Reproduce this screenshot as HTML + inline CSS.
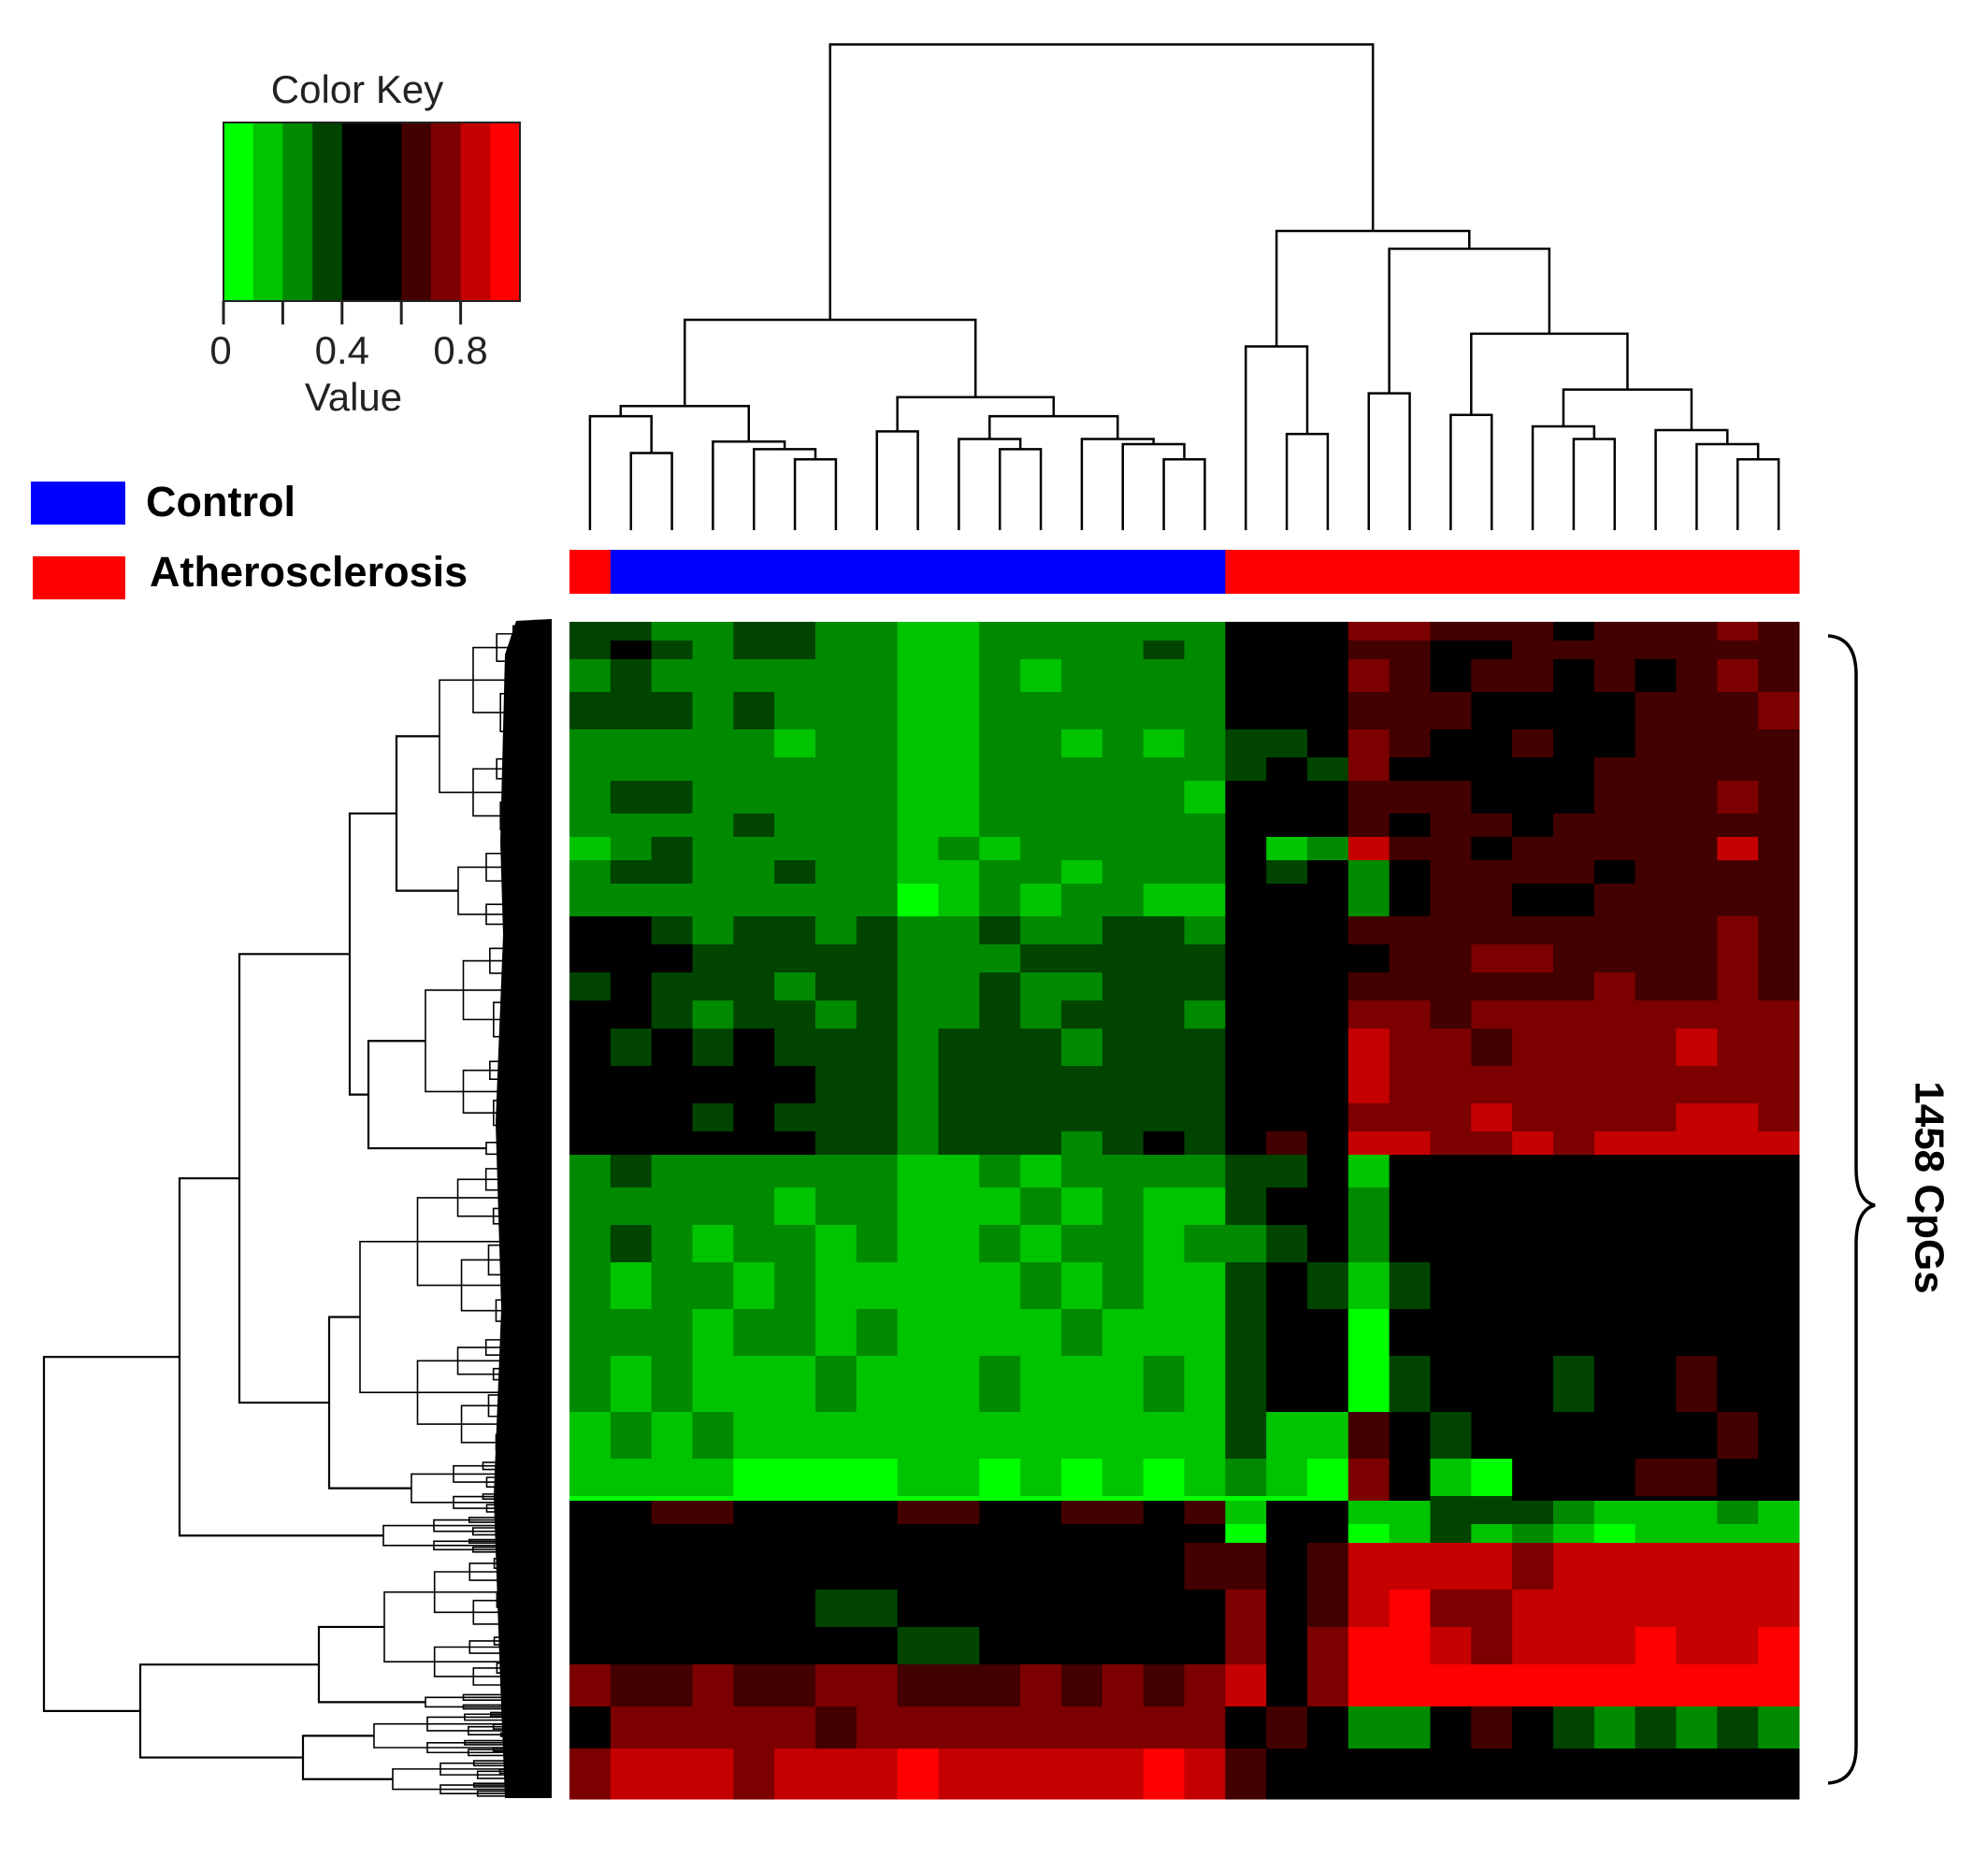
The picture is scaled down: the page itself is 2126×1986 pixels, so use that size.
<!DOCTYPE html>
<html><head><meta charset="utf-8"><style>
html,body{margin:0;padding:0;background:#fff;}
svg{display:block;font-family:"Liberation Sans",Arial,sans-serif;}
</style></head><body>
<svg id="chart" width="2126" height="1986" viewBox="0 0 2126 1986" xmlns="http://www.w3.org/2000/svg">
<rect width="2126" height="1986" fill="#fff"/>
<g id="key">
<text x="382" y="110" font-size="42" text-anchor="middle" fill="#222">Color Key</text>
<text x="378" y="439" font-size="42" text-anchor="middle" fill="#222">Value</text>
</g>
<g>
<rect x="33" y="515" width="101" height="46" fill="#0000ff"/>
<text x="156" y="552" font-size="45" font-weight="bold" fill="#000">Control</text>
<rect x="35" y="595" width="99" height="46" fill="#ff0000"/>
<text x="160" y="627" font-size="45" font-weight="bold" fill="#000">Atherosclerosis</text>
</g>
<g id="heat"></g>
<g id="colbar"></g>
<g id="topdendro" stroke="#000" stroke-width="2.5" fill="none"></g>
<g id="rowdendro" stroke="#000" stroke-width="2.2" fill="none"></g>
<path d="M1955,680 Q1985,682 1985,722 L1985,1250 Q1985,1284 2005,1289 Q1985,1294 1985,1330 L1985,1868 Q1985,1905 1955,1907" stroke="#000" stroke-width="3.5" fill="none"/>
<text x="2060" y="1270" font-size="44" font-weight="bold" text-anchor="middle" transform="rotate(90 2060 1270)" dominant-baseline="middle">1458 CpGs</text>
</svg>
<script>
// ---- data ----
var keyColors = ["#00ff00","#00c400","#008a00","#004400","#000000","#000000","#420000","#7c0000","#c40000","#ff0000"];
var keyTicks = [0,0.2,0.4,0.6,0.8];
var keyTickLabels = ["0","","0.4","","0.8"];
var sampleGroups = ["A","C","C","C","C","C","C","C","C","C","C","C","C","C","C","C","A","A","A","A","A","A","A","A","A","A","A","A","A","A"];
var rowBandEnds = [685,705,740,780,810,835,870,895,920,945,980,1010,1040,1070,1100,1140,1180,1210,1235,1270,1310,1350,1400,1450,1510,1560,1600,1605,1630,1650,1700,1740,1780,1825,1870,1924];
var rowBandValues = [
"3322332211222222"+"545"+"77"+"666566676",
"3432332211222232"+"555"+"66"+"556666666",
"2322222211212222"+"545"+"76"+"566565676",
"3332322211222222"+"555"+"66"+"655556667",
"2222212211221212"+"334"+"76"+"556556666",
"2222222211222222"+"343"+"75"+"555566666",
"2332222211222221"+"455"+"66"+"655566676",
"2222322211222222"+"545"+"65"+"665666666",
"1232222212122222"+"512"+"86"+"656666686",
"2332232211221222"+"434"+"25"+"666656666",
"2222222201212211"+"445"+"25"+"665566666",
"4432332322322332"+"555"+"66"+"666666676",
"4443333322233333"+"555"+"56"+"677666676",
"3433323322322333"+"555"+"66"+"666676676",
"4432332322323332"+"555"+"77"+"677777777",
"4343433323332333"+"455"+"87"+"767777877",
"4444443323333333"+"555"+"87"+"777777777",
"4443433323333333"+"555"+"77"+"787777887",
"4444443323332343"+"565"+"88"+"778788888",
"2322222211212222"+"334"+"15"+"555555555",
"2222212211121211"+"344"+"25"+"555545555",
"2321221211212212"+"234"+"24"+"555555555",
"2122121111121211"+"343"+"13"+"455454555",
"2221221211112111"+"344"+"04"+"554455555",
"2121112111211121"+"344"+"03"+"555355655",
"1212111111111111"+"311"+"65"+"345555565",
"1111000011010101"+"210"+"75"+"104446655",
"0000000000000000"+"000"+"75"+"334444444",
"5566554466556656"+"155"+"11"+"333211121",
"4455454455445555"+"045"+"01"+"312101111",
"5555554444555556"+"646"+"88"+"887888888",
"4545553344454545"+"746"+"89"+"778888888",
"5455554433554445"+"747"+"99"+"878889889",
"7667667766676767"+"857"+"99"+"999999999",
"5777776777777777"+"465"+"22"+"464323232",
"7888788898888898"+"655"+"45"+"545555545"
];
// column dendrogram: [mergeHeight, left, right]; leaves are column indices
var colTree = [35,
  [252,
    [320,[328,0,[357,1,2]],[348,3,[354,4,[362,5,6]]]],
    [313,[340,7,8],[328,[346,9,[354,10,11]],[346,12,[350,13,[362,14,15]]]]]],
  [182,
    [273,16,[342,17,18]],
    [196,[310,19,20],[263,[327,21,22],[307,[336,23,[346,24,25]],[339,26,[350,27,[362,28,29]]]]]]]];
// row dendrogram: node = [x, upper, lower]; terminal = [y0, y1, x]
var rowTree = [47,
  [192,
    [256,
      [374,[424,[662,900,470],[900,1000,490]],[394,[1000,1215,455],[1215,1240,520]]],
      [352,[1240,1560,385],[1560,1620,440]]],
    [1620,1662,410]],
  [150,
    [341,[1662,1810,411],[1810,1830,455]],
    [324,[1830,1880,400],[1880,1923,420]]]];

// ---- geometry ----
var NS="http://www.w3.org/2000/svg";
var HX0=609,HX1=1924,HY0=665,HY1=1924,NCOL=30;
function colX(i){return HX0+(HX1-HX0)*i/NCOL;}
function colCenter(i){return colX(i+0.5);}
var KX0=239,KX1=556,KY0=131,KY1=322;
function keyX(v){return KX0+(KX1-KX0)*v;}
function dendY(h){return h*1.357;}
var LEAFY=567;
function mk(tag,attrs,parent){var e=document.createElementNS(NS,tag);for(var k in attrs)e.setAttribute(k,attrs[k]);parent.appendChild(e);return e;}

// color key
var key=document.getElementById('key');
keyColors.forEach(function(c,i){
  var r=mk('rect',{x:keyX(i/10),y:KY0,width:(KX1-KX0)/10+0.6,height:KY1-KY0,fill:c},key);
  
  
});
var kb=mk('rect',{x:KX0,y:KY0,width:KX1-KX0,height:KY1-KY0,fill:'none',stroke:'#222','stroke-width':2},key);


keyTicks.forEach(function(v,i){
  var t=mk('line',{x1:keyX(v),x2:keyX(v),y1:KY1,y2:347,stroke:'#222','stroke-width':3},key);
  
  
  if(keyTickLabels[i]){
    var l=mk('text',{x:keyX(v)-(i===0?3:0),y:389,'font-size':42,'text-anchor':'middle',fill:'#222'},key);
    l.textContent=keyTickLabels[i];
    
    
  }
});

// heatmap
var heat=document.getElementById('heat');
var prev=HY0;
rowBandEnds.forEach(function(yEnd,r){
  var s=rowBandValues[r];
  for(var c=0;c<NCOL;c++){
    var cell=mk('rect',{x:colX(c),y:prev,width:colX(c+1)-colX(c)+0.5,height:yEnd-prev+0.5,fill:keyColors[+s[c]]},heat);
    
    
  }
  prev=yEnd;
});

// sample group bar
var cb=document.getElementById('colbar');
sampleGroups.forEach(function(g,i){
  var b=mk('rect',{x:colX(i),y:588,width:colX(i+1)-colX(i)+0.5,height:47,fill:g==='C'?'#0000ff':'#ff0000'},cb);
  
  
});

// column dendrogram
var td=document.getElementById('topdendro');
function drawCol(n){
  if(typeof n==='number') return {x:colCenter(n),y:LEAFY};
  var a=drawCol(n[1]),b=drawCol(n[2]),y=dendY(n[0]);
  var p=mk('path',{d:'M'+a.x+','+a.y+'V'+y+'H'+b.x+'V'+b.y},td);
  
  
  return {x:(a.x+b.x)/2,y:y};
}
drawCol(colTree);

// row dendrogram
var rd=document.getElementById('rowdendro');
var LEAFX=590;
var bulk=mk('path',{d:'M590,662 L552,664 L540,700 L535,900 L538,1000 L530,1200 L536,1400 L528,1600 L535,1800 L540,1923 L590,1923 Z',fill:'#000',stroke:'none'},rd);


function texture(x,y0,y1,d){
  if(y1-y0<7||d>7||x>LEAFX-8) return (y0+y1)/2;
  var f=(d%2)?0.42:0.58;
  var ym=y0+(y1-y0)*f;
  var cx=x+(LEAFX-x)*0.3;
  var a=texture(cx,y0,ym,d+1),b=texture(cx+(d%3)*4,ym,y1,d+1);
  var p=mk('path',{d:'M'+LEAFX+','+a+'H'+x+'V'+b+'H'+LEAFX,'stroke-width':1.6},rd);
  
  
  return (a+b)/2;
}
function drawRow(n){
  if(n[0]>=600){
    var y=texture(n[2],n[0],n[1],0);
    return {x:n[2],y:y};
  }
  var a=drawRow(n[1]),b=drawRow(n[2]);
  var p=mk('path',{d:'M'+a.x+','+a.y+'H'+n[0]+'V'+b.y+'H'+b.x},rd);
  
  
  return {x:n[0],y:(a.y+b.y)/2};
}
drawRow(rowTree);
</script>
</body></html>
